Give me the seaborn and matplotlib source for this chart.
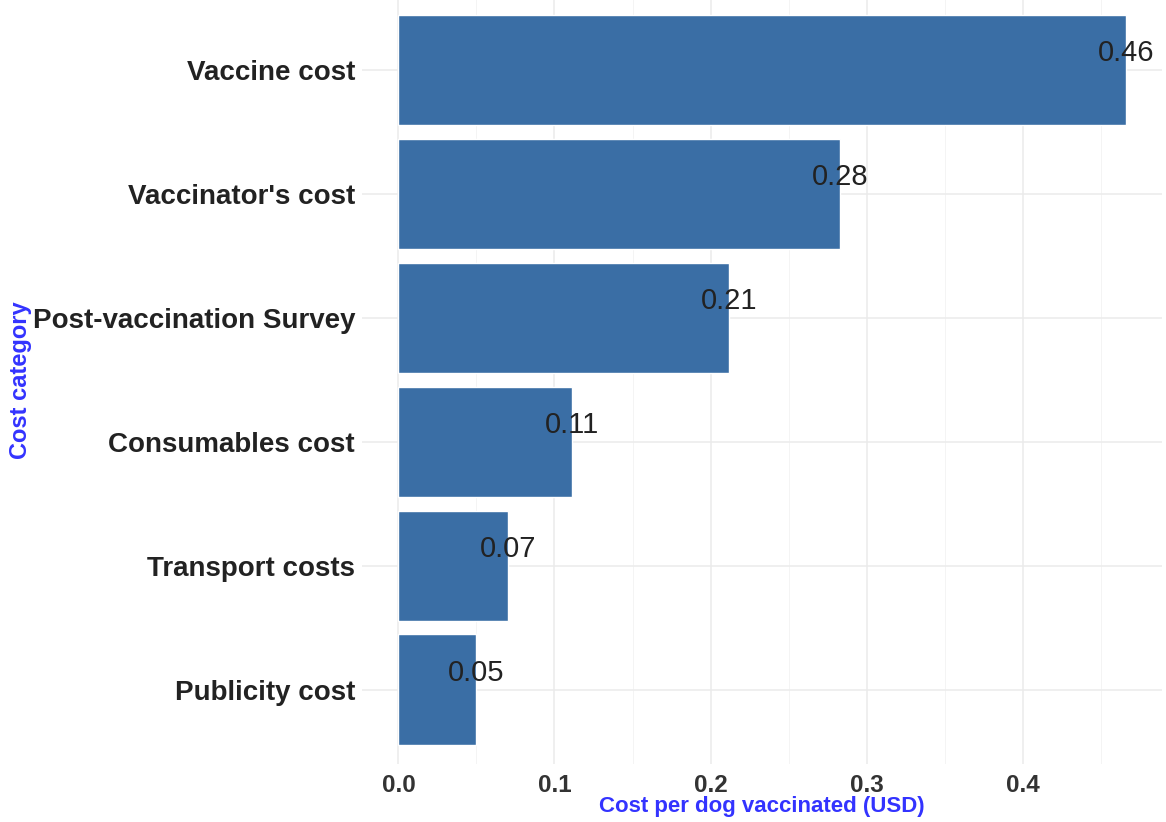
import pandas as pd
import numpy as np
import matplotlib.pyplot as plt
import seaborn as sns
from matplotlib.ticker import MultipleLocator

# cost per dog vaccinated, by category
categories = ["Vaccine cost", "Vaccinator's cost", "Post-vaccination Survey",
              "Consumables cost", "Transport costs", "Publicity cost"]
costs = [0.466, 0.283, 0.212, 0.111, 0.070, 0.050]
labels = ["0.46", "0.28", "0.21", "0.11", "0.07", "0.05"]

df = pd.DataFrame({"category": categories, "cost": costs, "label": labels})

sns.set_theme(style="white")
plt.rcParams["font.family"] = ["Liberation Sans", "DejaVu Sans"]

fig, ax = plt.subplots(figsize=(11.66, 8.22), dpi=100)
fig.subplots_adjust(left=0.3105, right=0.9966, top=1.0054, bottom=0.0706)

sns.barplot(data=df, x="cost", y="category", order=categories,
            color="#3A6EA5", saturation=1, width=0.89, ax=ax, zorder=3)

# value labels centred on the bar end
for i, row in df.iterrows():
    ax.annotate(row["label"], (row["cost"], i), xytext=(0, 12),
                textcoords="offset points", ha="center", va="center",
                fontsize=21, color="#222222", zorder=4)

xmax = max(costs)
ax.set_xlim(-0.05 * xmax, 1.05 * xmax)
ax.set_ylim(len(categories) - 0.4, -0.6)

ax.xaxis.set_major_locator(MultipleLocator(0.1))
ax.xaxis.set_minor_locator(MultipleLocator(0.05))
ax.grid(which="major", axis="both", color="#EBEBEB", linewidth=1.1, zorder=0)
ax.grid(which="minor", axis="x", color="#F3F3F3", linewidth=0.6, zorder=0)
ax.set_axisbelow(True)
ax.xaxis.set_major_formatter(plt.FuncFormatter(lambda v, p: f"{v:.1f}"))

for s in ax.spines.values():
    s.set_visible(False)
ax.tick_params(axis="both", which="both", length=0)
ax.tick_params(axis="x", pad=7, labelsize=17.5, labelcolor="#333333")
ax.tick_params(axis="y", pad=5, labelsize=20, labelcolor="#222222")
for t in ax.get_xticklabels() + ax.get_yticklabels():
    t.set_fontweight("bold")

ax.set_xlabel("Cost per dog vaccinated (USD)", color="#3333FF",
              fontsize=16, fontweight="bold")
ax.xaxis.set_label_coords(0.5, -0.0416)
ax.set_ylabel("Cost category", color="#3333FF",
              fontsize=17, fontweight="bold")
ax.yaxis.set_label_coords(-0.4125, 0.5)

plt.savefig("out.png", dpi=100)
